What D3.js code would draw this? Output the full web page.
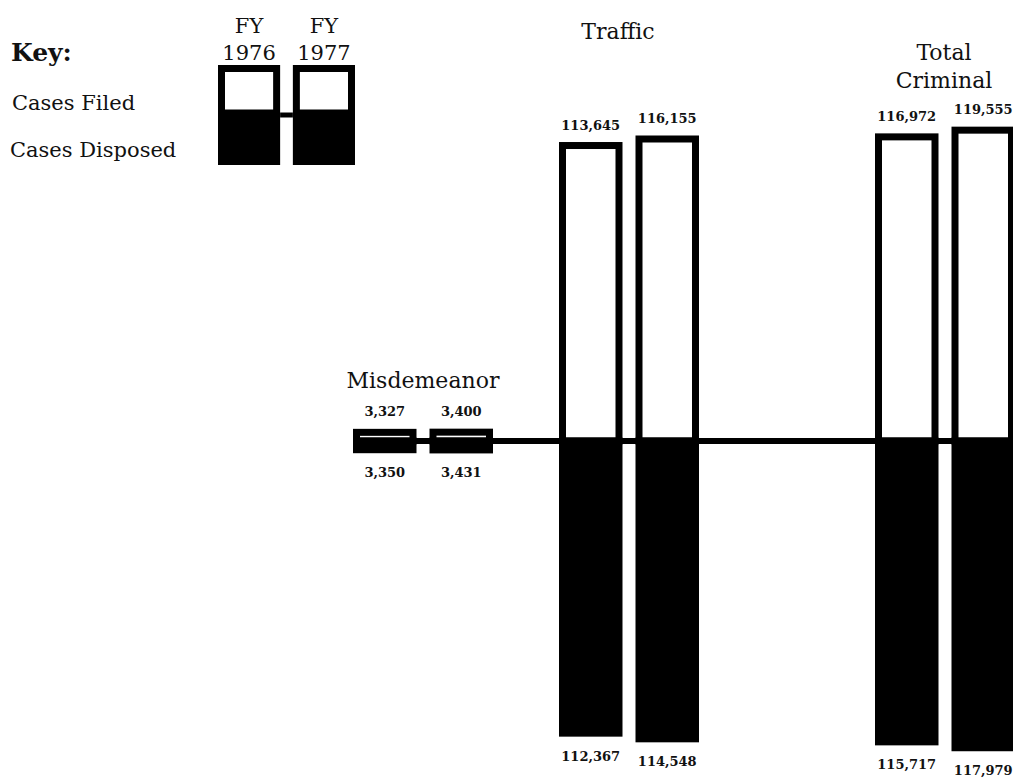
<!DOCTYPE html>
<html>
<head>
<meta charset="utf-8">
<script src="https://cdn.jsdelivr.net/npm/d3@7"></script>
<style>
  html, body { margin: 0; padding: 0; background: #ffffff; }
  svg { display: block; }
  text { font-family: "DejaVu Serif", "Liberation Serif", serif; fill: #111; }
</style>
</head>
<body>
<script>
// ---- data ----
const categories = ["Misdemeanor", "Traffic", "Total Criminal"];
const years = ["FY 1976", "FY 1977"];
const casesFiled1976 = [3327, 113645, 116972];
const casesFiled1977 = [3400, 116155, 119555];
const casesDisposed1976 = [3350, 112367, 115717];
const casesDisposed1977 = [3431, 114548, 117979];
const keyLabels = ["Cases Filed", "Cases Disposed"];

// ---- layout ----
const W = 1013, H = 781, baseY = 441, SW = 7;
const svg = d3.select("body").append("svg").attr("width", W).attr("height", H);

const groupX = d3.scaleOrdinal().domain(categories).range([353, 559, 875]);
const yearX = d3.scaleBand().domain(years).range([0, 140]).paddingInner(0.17).paddingOuter(0);
const hScale = d3.scaleLinear().domain([0, 120000]).range([0, 312]);

const filedByYear = [casesFiled1976, casesFiled1977];
const disposedByYear = [casesDisposed1976, casesDisposed1977];
const bars = [];
categories.forEach((c, i) => {
  years.forEach((yr, j) => {
    bars.push({ cat: c, year: yr, filed: filedByYear[j][i], disposed: disposedByYear[j][i] });
  });
});
const fmt = d3.format(",");
const bx = d => groupX(d.cat) + yearX(d.year);
const bw = yearX.bandwidth();

// filed (up, outlined)
svg.append("g").selectAll("rect").data(bars).join("rect")
  .attr("x", d => bx(d) + SW / 2)
  .attr("width", bw - SW)
  .attr("y", d => baseY - hScale(d.filed))
  .attr("height", d => hScale(d.filed))
  .attr("fill", "#fff").attr("stroke", "#000").attr("stroke-width", SW);

// disposed (down, solid)
svg.append("g").selectAll("rect").data(bars).join("rect")
  .attr("x", d => bx(d) + SW / 2)
  .attr("width", bw - SW)
  .attr("y", baseY)
  .attr("height", d => hScale(d.disposed))
  .attr("fill", "#000").attr("stroke", "#000").attr("stroke-width", SW);

// baseline
svg.append("line")
  .attr("x1", groupX(categories[0])).attr("x2", W)
  .attr("y1", baseY).attr("y2", baseY)
  .attr("stroke", "#000").attr("stroke-width", 6);

// value labels
svg.append("g").selectAll("text").data(bars).join("text")
  .attr("x", d => bx(d) + bw / 2)
  .attr("y", d => baseY - hScale(d.filed) - 16)
  .attr("text-anchor", "middle").attr("font-size", 13).attr("font-weight", "bold")
  .text(d => fmt(d.filed));
svg.append("g").selectAll("text").data(bars).join("text")
  .attr("x", d => bx(d) + bw / 2)
  .attr("y", d => baseY + hScale(d.disposed) + 27.5)
  .attr("text-anchor", "middle").attr("font-size", 13).attr("font-weight", "bold")
  .text(d => fmt(d.disposed));

// category titles
const titlePos = { "Misdemeanor": [423, [388]], "Traffic": [618, [39]], "Total Criminal": [944, [60, 88]] };
categories.forEach(c => {
  const [tx, ys] = titlePos[c];
  const lines = ys.length > 1 ? c.split(" ") : [c];
  lines.forEach((ln, k) => {
    svg.append("text").attr("x", tx).attr("y", ys[k])
      .attr("text-anchor", "middle").attr("font-size", 22).text(ln);
  });
});

// ---- key ----
svg.append("text").attr("x", 11).attr("y", 61).attr("font-size", 25).attr("font-weight", "bold").text("Key:");
svg.append("text").attr("x", 12).attr("y", 110).attr("font-size", 21).text(keyLabels[0]);
svg.append("text").attr("x", 10).attr("y", 157).attr("font-size", 21).text(keyLabels[1]);

const keyX = d3.scaleBand().domain(years).range([218, 355]).paddingInner(0.17).paddingOuter(0);
const kTop = 65, kMid = 113, kBot = 165;
years.forEach(yr => {
  const x0 = keyX(yr), w = keyX.bandwidth();
  svg.append("rect").attr("x", x0 + SW / 2).attr("y", kTop + SW / 2)
    .attr("width", w - SW).attr("height", kMid - kTop - SW / 2)
    .attr("fill", "#fff").attr("stroke", "#000").attr("stroke-width", SW);
  svg.append("rect").attr("x", x0).attr("y", kMid).attr("width", w).attr("height", kBot - kMid)
    .attr("fill", "#000");
  const parts = yr.split(" ");
  svg.append("text").attr("x", x0 + w / 2).attr("y", 33).attr("text-anchor", "middle").attr("font-size", 21).text(parts[0]);
  svg.append("text").attr("x", x0 + w / 2).attr("y", 60).attr("text-anchor", "middle").attr("font-size", 21).text(parts[1]);
});
svg.append("line").attr("x1", keyX(years[0]) + keyX.bandwidth()).attr("x2", keyX(years[1]))
  .attr("y1", kMid + 2).attr("y2", kMid + 2).attr("stroke", "#000").attr("stroke-width", 5);
</script>
</body>
</html>
